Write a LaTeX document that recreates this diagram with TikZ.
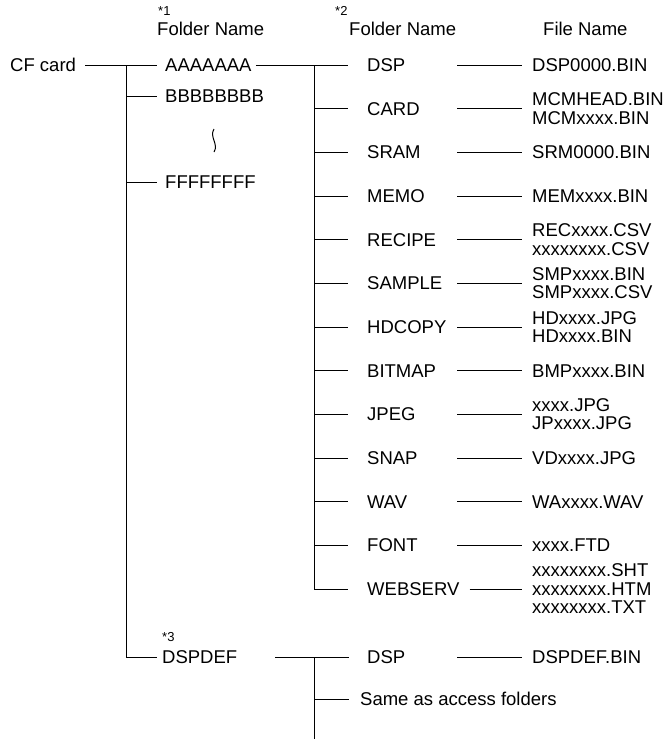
\documentclass[tikz,border=0pt]{standalone}
\usepackage{fontspec}
\setmainfont{Liberation Sans}
\usepackage{tikz}
\usetikzlibrary{positioning}
\tikzset{
    tree line/.style={draw=black, line width=0.8pt},
    name node/.style={anchor=west, inner sep=0pt,
      font=\fontsize{18.5}{18.5}\selectfont},
    file node/.style={name node, align=left},
    star node/.style={anchor=west, inner sep=0pt,
      font=\fontsize{13}{13}\selectfont}
}

\begin{document}
\begin{tikzpicture}[x=1pt,y=-1pt]
  \useasboundingbox (0,0) rectangle (670,739);

  % headers
  \node[star node] (s1) at (158,11) {*1};
  \node[name node] (h1) at (157,29) {Folder Name};
  \node[star node] (s2) at (335,11) {*2};
  \node[name node] (h2) at (349,29) {Folder Name};
  \node[name node] (h3) at (543,29) {File Name};

  % first level
  \node[name node] (cf) at (10,65) {CF card};
  \node[name node] (aaa) at (165,65) {AAAAAAA};
  \node[name node] (bbb) at (165,96) {BBBBBBBB};
  \node[name node] (fff) at (165,182) {FFFFFFFF};
  \node[star node] (s3) at (162,637) {*3};
  \node[name node] (dspdef) at (162,657) {DSPDEF};

  \coordinate (t1) at (126,65);
  \coordinate (t2) at (314,65);
  \coordinate (c3) at (457,0);

  \draw[tree line] ([xshift=9pt]cf.east) -- ([xshift=-8pt]aaa.west);
  \draw[tree line] (t1) -- (t1 |- dspdef) -- ([xshift=-5pt]dspdef.west);
  \draw[tree line] (t1 |- bbb) -- ([xshift=-8pt]bbb.west);
  \draw[tree line] (t1 |- fff) -- ([xshift=-8pt]fff.west);
  \draw[line width=1pt] (214,129) .. controls (209,137) and (219,144) .. (214,152);

  % second level folders
  \node[name node] (dsp) at (367,65) {DSP};
  \node[name node] (card) at (367,108.7) {CARD};
  \node[name node] (sram) at (367,152.3) {SRAM};
  \node[name node] (memo) at (367,196) {MEMO};
  \node[name node] (recipe) at (367,239.7) {RECIPE};
  \node[name node] (sample) at (367,283.3) {SAMPLE};
  \node[name node] (hdcopy) at (367,327) {HDCOPY};
  \node[name node] (bitmap) at (367,370.7) {BITMAP};
  \node[name node] (jpeg) at (367,414.3) {JPEG};
  \node[name node] (snap) at (367,458) {SNAP};
  \node[name node] (wav) at (367,501.7) {WAV};
  \node[name node] (font) at (367,545.3) {FONT};
  \node[name node] (webserv) at (367,589) {WEBSERV};

  % files
  \node[file node] (dspf) at (532,65) {DSP0000.BIN};
  \node[file node] (cardf) at (532,108.7) {MCMHEAD.BIN\\MCMxxxx.BIN};
  \node[file node] (sramf) at (532,152.3) {SRM0000.BIN};
  \node[file node] (memof) at (532,196) {MEMxxxx.BIN};
  \node[file node] (recipef) at (532,239.7) {RECxxxx.CSV\\xxxxxxxx.CSV};
  \node[file node] (samplef) at (532,283.3) {SMPxxxx.BIN\\SMPxxxx.CSV};
  \node[file node] (hdcopyf) at (532,327) {HDxxxx.JPG\\HDxxxx.BIN};
  \node[file node] (bitmapf) at (532,370.7) {BMPxxxx.BIN};
  \node[file node] (jpegf) at (532,414.3) {xxxx.JPG\\JPxxxx.JPG};
  \node[file node] (snapf) at (532,458) {VDxxxx.JPG};
  \node[file node] (wavf) at (532,501.7) {WAxxxx.WAV};
  \node[file node] (fontf) at (532,545.3) {xxxx.FTD};
  \node[file node] (webservf) at (532,589)
  {xxxxxxxx.SHT\\xxxxxxxx.HTM\\xxxxxxxx.TXT};

  % second level links
  \draw[tree line] ([xshift=4pt]aaa.east) -- (t2);
  \draw[tree line] (t2) -- (t2 |- webserv) -- ([xshift=-19pt]webserv.west);
  \draw[tree line] (t2) -- ([xshift=-19pt]dsp.west);
  \draw[tree line] (t2 |- card) -- ([xshift=-19pt]card.west);
  \draw[tree line] (t2 |- sram) -- ([xshift=-19pt]sram.west);
  \draw[tree line] (t2 |- memo) -- ([xshift=-19pt]memo.west);
  \draw[tree line] (t2 |- recipe) -- ([xshift=-19pt]recipe.west);
  \draw[tree line] (t2 |- sample) -- ([xshift=-19pt]sample.west);
  \draw[tree line] (t2 |- hdcopy) -- ([xshift=-19pt]hdcopy.west);
  \draw[tree line] (t2 |- bitmap) -- ([xshift=-19pt]bitmap.west);
  \draw[tree line] (t2 |- jpeg) -- ([xshift=-19pt]jpeg.west);
  \draw[tree line] (t2 |- snap) -- ([xshift=-19pt]snap.west);
  \draw[tree line] (t2 |- wav) -- ([xshift=-19pt]wav.west);
  \draw[tree line] (t2 |- font) -- ([xshift=-19pt]font.west);

  % folder to file
  \draw[tree line] (dsp -| c3) -- ([xshift=-10pt]dspf.west);
  \draw[tree line] (card -| c3) -- ([xshift=-10pt]cardf.west);
  \draw[tree line] (sram -| c3) -- ([xshift=-10pt]sramf.west);
  \draw[tree line] (memo -| c3) -- ([xshift=-10pt]memof.west);
  \draw[tree line] (recipe -| c3) -- ([xshift=-10pt]recipef.west);
  \draw[tree line] (sample -| c3) -- ([xshift=-10pt]samplef.west);
  \draw[tree line] (hdcopy -| c3) -- ([xshift=-10pt]hdcopyf.west);
  \draw[tree line] (bitmap -| c3) -- ([xshift=-10pt]bitmapf.west);
  \draw[tree line] (jpeg -| c3) -- ([xshift=-10pt]jpegf.west);
  \draw[tree line] (snap -| c3) -- ([xshift=-10pt]snapf.west);
  \draw[tree line] (wav -| c3) -- ([xshift=-10pt]wavf.west);
  \draw[tree line] (font -| c3) -- ([xshift=-10pt]fontf.west);
  \draw[tree line] ([xshift=10pt]webserv.east) -- ([xshift=-10pt]webservf.west);

  % default folder
  \node[name node] (dsp2) at (367,657) {DSP};
  \node[file node] (dspdeff) at (532,657) {DSPDEF.BIN};
  \node[name node] (same) at (360,699) {Same as access folders};
  \coordinate (t3) at (314,657);
  \coordinate (b3) at (314,739);

  \draw[tree line] ([xshift=38pt]dspdef.east) -- ([xshift=-18pt]dsp2.west);
  \draw[tree line] (t3) -- (b3);
  \draw[tree line] (t3 |- same) -- ([xshift=-11pt]same.west);
  \draw[tree line] (dsp2 -| c3) -- ([xshift=-10pt]dspdeff.west);

\end{tikzpicture}
\end{document}
